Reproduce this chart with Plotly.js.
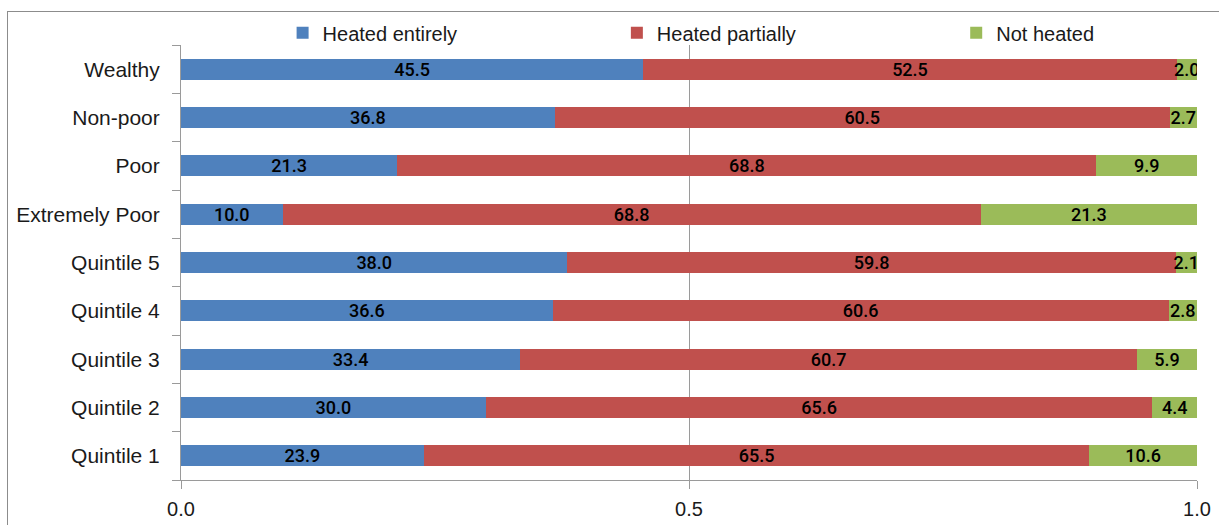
<!DOCTYPE html>
<html>
<head>
<meta charset="utf-8">
<script src="https://cdn.plot.ly/plotly-3.0.1.min.js"></script>
<style>
  html, body { margin: 0; padding: 0; background: #fff; overflow: hidden; }
  #frame { position: absolute; left: 7px; top: 11px; width: 1240px; height: 540px;
           border: 1px solid #8c8c8c; box-sizing: border-box; }
  #chart { position: absolute; left: 0; top: 0; width: 1219px; height: 525px; }
</style>
</head>
<body>
<div id="frame"></div>
<div id="chart"></div>
<script>
// Heating of dwellings by welfare group, shares in percent (bottom to top)
const groups = ["Quintile 1", "Quintile 2", "Quintile 3", "Quintile 4", "Quintile 5",
                "Extremely Poor", "Poor", "Non-poor", "Wealthy"];
const heatedEntirely  = [23.9, 30.0, 33.4, 36.6, 38.0, 10.0, 21.3, 36.8, 45.5];
const heatedPartially = [65.5, 65.6, 60.7, 60.6, 59.8, 68.8, 68.8, 60.5, 52.5];
const notHeated       = [10.6, 4.4, 5.9, 2.8, 2.1, 21.3, 9.9, 2.7, 2.0];
const xTickValues = [0, 0.5, 1];
const xTickLabels = ["0.0", "0.5", "1.0"];

const labelFont = { family: "Roboto, Liberation Sans, Arial, sans-serif", size: 18, weight: 500, color: "#000" };

function series(name, values, color, legendId) {
  return {
    type: "bar",
    orientation: "h",
    name: name,
    legend: legendId,
    y: groups,
    x: values,
    text: values.map(v => v.toFixed(1)),
    texttemplate: "%{text}",
    textposition: "inside",
    insidetextanchor: "middle",
    textangle: 0,
    constraintext: "none",
    textfont: labelFont,
    insidetextfont: labelFont,
    marker: { color: color, line: { width: 0 } },
    hoverinfo: "skip"
  };
}

const data = [
  series("Heated entirely", heatedEntirely, "#4F81BD", "legend"),
  series("Heated partially", heatedPartially, "#C0504D", "legend2"),
  series("Not heated", notHeated, "#9BBB59", "legend3")
];

// one single-entry legend per series, spread across the top
function legendAt(x) {
  return {
    orientation: "h",
    x: x, xanchor: "left",
    y: 1.028, yanchor: "middle",
    font: { size: 20, color: "#1a1a1a" },
    bgcolor: "rgba(0,0,0,0)"
  };
}

const layout = {
  width: 1219,
  height: 525,
  margin: { l: 181, r: 22, t: 45, b: 45, autoexpand: false },
  paper_bgcolor: "rgba(0,0,0,0)",
  plot_bgcolor: "rgba(0,0,0,0)",
  barmode: "stack",
  barnorm: "fraction",
  bargap: 0.57,
  font: { family: "Liberation Sans, Arial, sans-serif", size: 20, color: "#1a1a1a" },
  showlegend: true,
  legend: legendAt(0.1),
  legend2: legendAt(0.429),
  legend3: legendAt(0.763),
  xaxis: {
    range: [0, 1],
    tickvals: xTickValues,
    ticktext: xTickLabels,
    ticks: "outside",
    ticklen: 8,
    tickcolor: "#9a9a9a",
    ticklabelstandoff: 3,
    showgrid: true,
    gridcolor: "#9a9a9a",
    gridwidth: 1,
    zeroline: false,
    showline: true,
    linecolor: "#9a9a9a",
    linewidth: 1,
    fixedrange: true
  },
  yaxis: {
    type: "category",
    categoryorder: "array",
    categoryarray: groups,
    ticks: "outside",
    tickson: "boundaries",
    ticklen: 8,
    tickcolor: "#9a9a9a",
    ticklabelstandoff: 16,
    tickfont: { size: 21 },
    showgrid: false,
    zeroline: false,
    showline: true,
    linecolor: "#9a9a9a",
    linewidth: 1,
    fixedrange: true
  }
};

Plotly.newPlot("chart", data, layout, { displayModeBar: false, staticPlot: true });
</script>
</body>
</html>
